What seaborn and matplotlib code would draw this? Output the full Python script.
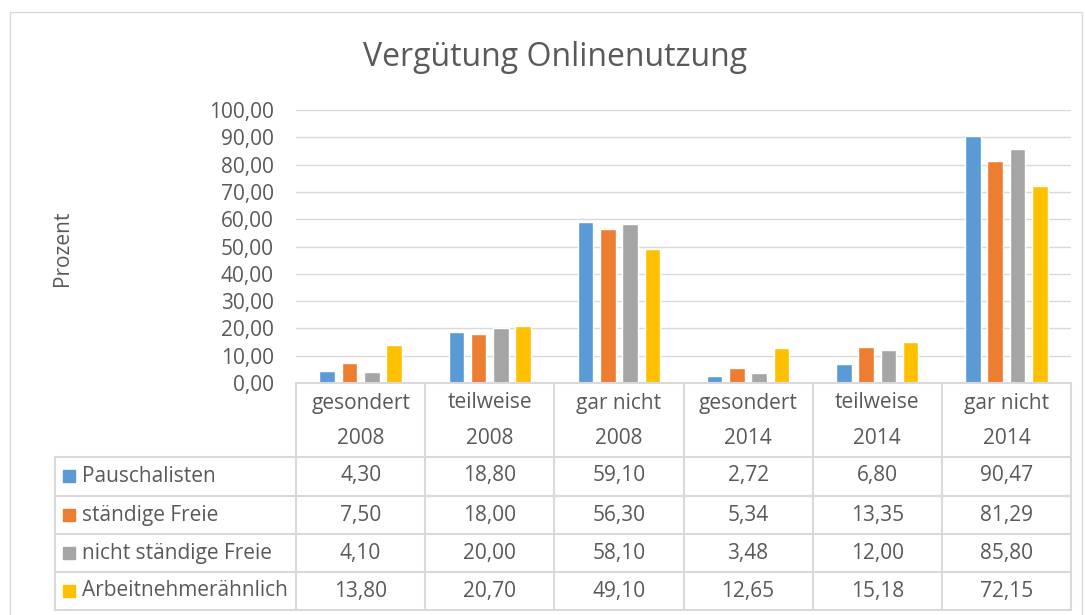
import pandas as pd
import seaborn as sns
import matplotlib.pyplot as plt
from matplotlib.lines import Line2D
from matplotlib.patches import Rectangle

# Daten
categories = ['gesondert\n2008', 'teilweise\n2008', 'gar nicht\n2008',
              'gesondert\n2014', 'teilweise\n2014', 'gar nicht\n2014']
series = ['Pauschalisten', 'ständige Freie', 'nicht ständige Freie', 'Arbeitnehmerähnlich']
pauschalisten = [4.30, 18.80, 59.10, 2.72, 6.80, 90.47]
staendige = [7.50, 18.00, 56.30, 5.34, 13.35, 81.29]
nicht_staendige = [4.10, 20.00, 58.10, 3.48, 12.00, 85.80]
arbeitnehmer = [13.80, 20.70, 49.10, 12.65, 15.18, 72.15]
colors = ['#5B9BD5', '#ED7D31', '#A5A5A5', '#FFC000']

values = [pauschalisten, staendige, nicht_staendige, arbeitnehmer]
rows = []
for s, vals in zip(series, values):
    for c, v in zip(categories, vals):
        rows.append({'Kategorie': c, 'Gruppe': s, 'Wert': v})
df = pd.DataFrame(rows)

sns.set_style('white')
plt.rcParams['font.family'] = ['Open Sans', 'DejaVu Sans']
txt = '#595959'
grid = '#D9D9D9'
fs = 15

W, H = 1085, 615
fig = plt.figure(figsize=(W / 100, H / 100), dpi=100)


def fx(px):
    return px / W


def fy(py):
    return 1 - py / H


left, right, top, bottom = 296, 1071, 110, 383
ax = fig.add_axes([fx(left), fy(bottom), fx(right) - fx(left), fy(top) - fy(bottom)])
sns.barplot(data=df, x='Kategorie', y='Wert', hue='Gruppe', palette=colors,
            width=0.69, gap=0.3, ax=ax, legend=False, saturation=1)
ax.set_xlim(-0.5, len(categories) - 0.5)
ax.set_ylim(0, 100)
ax.set_yticks(range(0, 101, 10))
ax.set_yticklabels([f'{t:.2f}'.replace('.', ',') for t in range(0, 101, 10)],
                   color=txt, fontsize=fs)
ax.tick_params(axis='y', length=0, pad=16)
ax.set_xticks([])
ax.set_xlabel('')
ax.set_ylabel('')
ax.grid(axis='y', color=grid, lw=1)
ax.set_axisbelow(True)
for sp in ax.spines.values():
    sp.set_visible(False)

fig.text(fx(555), fy(57), 'Vergütung Onlinenutzung', ha='center', va='center',
         fontsize=23, color=txt)
fig.text(fx(62), fy(248), 'Prozent', rotation=90, ha='center', va='center',
         fontsize=fs, color=txt)

# Rahmen
fig.add_artist(Rectangle((fx(10), fy(640)), fx(1082) - fx(10), fy(12) - fy(640),
                         transform=fig.transFigure, fill=False, ec=grid, lw=1))

# Datentabelle
col_w = (right - left) / len(categories)
row_top = [457, 496, 534, 572]
row_h = 38
table_bottom = 610


def hline(y, x0, x1):
    fig.add_artist(Line2D([fx(x0), fx(x1)], [fy(y), fy(y)], color=grid, lw=1.5,
                          transform=fig.transFigure))


def vline(x, y0, y1):
    fig.add_artist(Line2D([fx(x), fx(x)], [fy(y0), fy(y1)], color=grid, lw=1.5,
                          transform=fig.transFigure))


hline(bottom, left, right)
for y in row_top + [table_bottom]:
    hline(y, 55, right)
vline(55, row_top[0], table_bottom)
for i in range(len(categories) + 1):
    vline(left + i * col_w, bottom, table_bottom)

for i, c in enumerate(categories):
    cx = left + (i + 0.5) * col_w
    l1, l2 = c.split('\n')
    fig.text(fx(cx), fy(403), l1, ha='center', va='center', fontsize=fs, color=txt)
    fig.text(fx(cx), fy(438), l2, ha='center', va='center', fontsize=fs, color=txt)

for r, (s, vals, col) in enumerate(zip(series, values, colors)):
    cy = row_top[r] + row_h / 2
    fig.add_artist(Rectangle((fx(63), fy(cy + 6)), fx(75) - fx(63), fy(cy - 6) - fy(cy + 6),
                             transform=fig.transFigure, color=col))
    fig.text(fx(82), fy(cy), s, ha='left', va='center', fontsize=fs, color=txt)
    for i, v in enumerate(vals):
        cx = left + (i + 0.5) * col_w
        fig.text(fx(cx), fy(cy), f'{v:.2f}'.replace('.', ','), ha='center', va='center',
                 fontsize=fs, color=txt)

fig.savefig('out.png', dpi=100)
